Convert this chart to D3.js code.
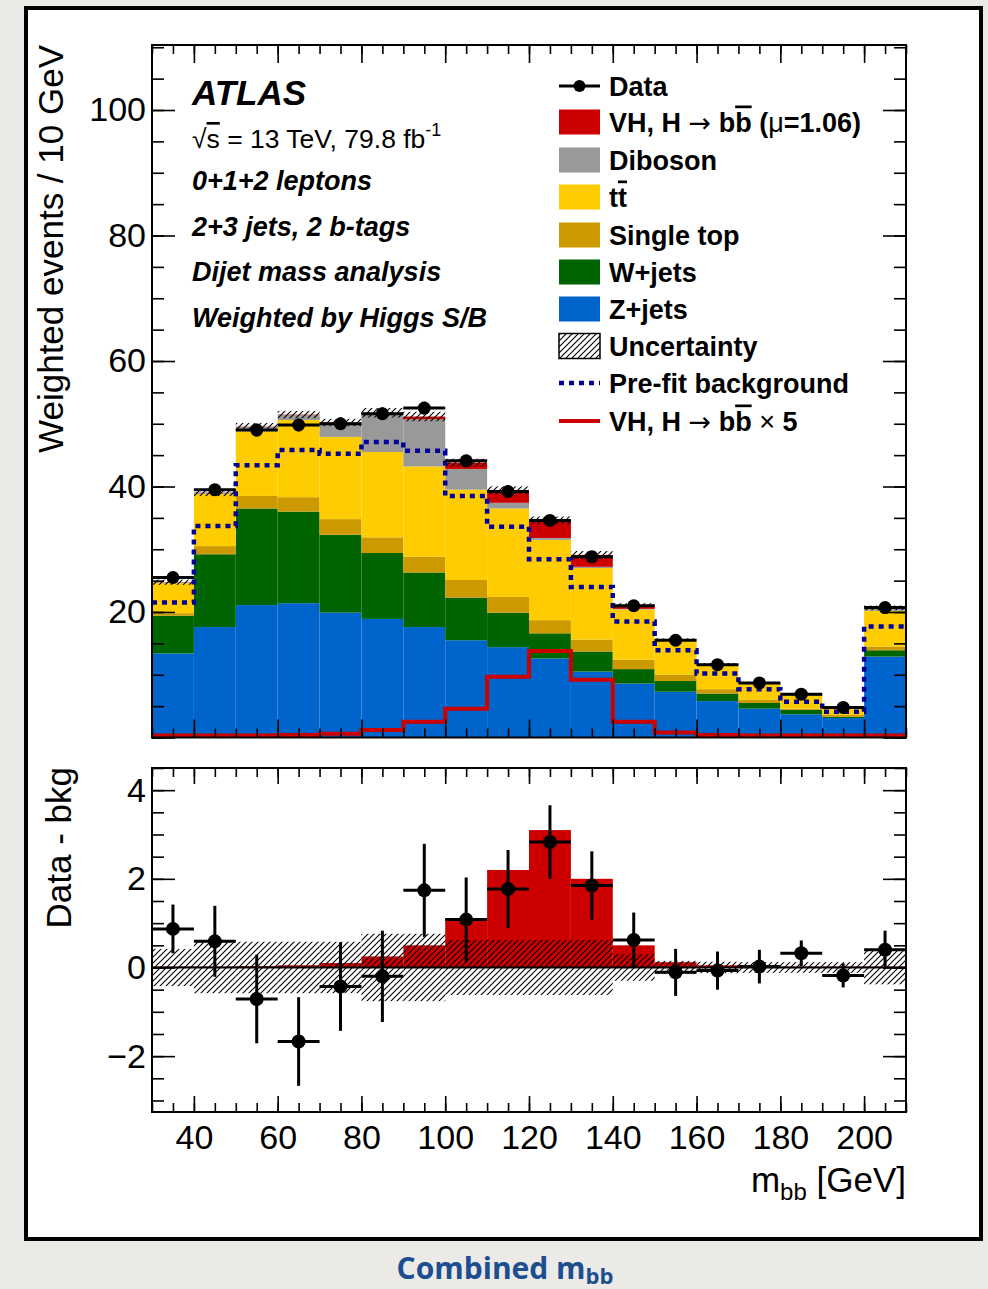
<!DOCTYPE html>
<html>
<head>
<meta charset="utf-8">
<script src="https://cdn.jsdelivr.net/npm/d3@7"></script>
<style>
  body { margin: 0; background: #eceae7; }
  svg { display: block; }
  text { font-family: "Liberation Sans", Arial, Helvetica, sans-serif; }
</style>
</head>
<body>
<svg id="chart" width="988" height="1289"></svg>
<script>
// ---- data (10 GeV bins, last one is 200-210) ----
const binLo = [30, 40, 50, 60, 70, 80, 90, 100, 110, 120, 130, 140, 150, 160, 170, 180, 190, 200];
const binHi = [40, 50, 60, 70, 80, 90, 100, 110, 120, 130, 140, 150, 160, 170, 180, 190, 200, 210];

// stacked contributions, weighted events / 10 GeV
const zjets   = [13.4, 17.6, 21.1, 21.4, 19.9, 18.9, 17.6, 15.5, 14.4, 12.6, 10.5, 8.6, 7.3, 5.8, 4.6, 3.7, 3.1, 12.9];
const wjets   = [6.0, 11.6, 15.4, 14.6, 12.4, 10.5, 8.7, 6.8, 5.5, 4.0, 3.2, 2.3, 1.7, 1.2, 0.9, 0.7, 0.2, 1.0];
const stop    = [0.4, 1.3, 2.0, 2.3, 2.5, 2.5, 2.5, 2.8, 2.5, 2.1, 1.9, 1.5, 1.0, 0.7, 0.5, 0.2, 0.3, 0.6];
const ttbar   = [4.8, 8.3, 10.3, 12.3, 13.1, 13.6, 14.4, 14.4, 14.1, 12.8, 11.4, 8.0, 5.4, 3.9, 2.6, 2.1, 1.2, 5.7];
const diboson = [0.1, 0.2, 0.7, 0.8, 2.2, 6.0, 7.5, 3.3, 0.9, 0.3, 0.2, 0.1, 0.1, 0.05, 0.05, 0.05, 0.05, 0.4];
const signal  = [0.05, 0.05, 0.05, 0.06, 0.1, 0.25, 0.45, 1.0, 2.0, 2.8, 1.9, 0.6, 0.15, 0.08, 0.05, 0.05, 0.05, 0.05];

const prefitBkg = [21.5, 33.7, 43.4, 45.8, 45.2, 47.1, 45.7, 38.5, 33.6, 28.4, 24.0, 18.5, 13.9, 10.2, 7.7, 5.7, 4.1, 17.7];
const signalX5  = [0.3, 0.3, 0.3, 0.4, 0.6, 1.2, 2.5, 4.6, 9.7, 13.8, 9.2, 2.5, 0.8, 0.4, 0.3, 0.3, 0.3, 0.3];

const dataVals = [25.5, 39.5, 49.0, 49.8, 50.0, 51.6, 52.5, 44.1, 39.2, 34.6, 28.8, 21.0, 15.5, 11.6, 8.7, 6.9, 4.8, 20.7];
const dataErr  = [0.8, 0.9, 1.0, 1.0, 1.0, 1.0, 1.0, 0.9, 0.9, 0.8, 0.8, 0.7, 0.6, 0.5, 0.4, 0.4, 0.3, 0.6];

// lower panel: data - bkg
const diffVals = [0.87, 0.59, -0.71, -1.67, -0.43, -0.20, 1.74, 1.08, 1.77, 2.83, 1.85, 0.62, -0.11, -0.07, 0.02, 0.32, -0.18, 0.40];
const diffErr  = [0.55, 0.80, 1.00, 1.00, 1.00, 1.03, 1.05, 0.95, 0.88, 0.83, 0.77, 0.62, 0.53, 0.43, 0.38, 0.29, 0.27, 0.43];
const sigLower = [0.02, 0.02, 0.03, 0.05, 0.1, 0.25, 0.5, 1.1, 2.2, 3.1, 2.0, 0.5, 0.12, 0.05, 0.03, 0.02, 0.02, 0.02];
const bkgUnc   = [0.42, 0.58, 0.58, 0.58, 0.58, 0.76, 0.76, 0.62, 0.62, 0.62, 0.62, 0.30, 0.15, 0.13, 0.12, 0.12, 0.12, 0.38];

// ticks
const xTickLabels = [40, 60, 80, 100, 120, 140, 160, 180, 200];
const yTopLabels = [20, 40, 60, 80, 100];
const yLowLabels = [-2, 0, 2, 4];

const stackKeys = ["zjets", "wjets", "stop", "ttbar", "diboson", "signal"];
const colors = {
  zjets: "#0064cd", wjets: "#006400", stop: "#cc9900",
  ttbar: "#ffcc00", diboson: "#999999", signal: "#cc0000"
};

// ---- layout ----
const svg = d3.select("#chart");
const left = 152, right = 906;
const topP = { top: 45, bottom: 737.5 };
const lowP = { top: 768, bottom: 1112 };
const font = '"Liberation Sans", Arial, Helvetica, sans-serif';

// page frame
svg.append("rect").attr("x", 26).attr("y", 8).attr("width", 955).attr("height", 1231)
  .attr("fill", "white").attr("stroke", "black").attr("stroke-width", 4);

const defs = svg.append("defs");
const pat = defs.append("pattern").attr("id", "hatch").attr("patternUnits", "userSpaceOnUse")
  .attr("width", 6).attr("height", 6);
pat.append("path").attr("d", "M-1,1 l2,-2 M0,6 l6,-6 M5,7 l2,-2")
  .attr("stroke", "black").attr("stroke-width", 1.1);

defs.append("clipPath").attr("id", "clipTop").append("rect")
  .attr("x", left).attr("y", topP.top).attr("width", right - left).attr("height", topP.bottom - topP.top);
defs.append("clipPath").attr("id", "clipLow").append("rect")
  .attr("x", left).attr("y", lowP.top).attr("width", right - left).attr("height", lowP.bottom - lowP.top);

// scales
const x = d3.scaleLinear().domain([30, 210]).range([left, right]);
const yTop = d3.scaleLinear().domain([0, 110.36]).range([topP.bottom, topP.top]);
const yLow = d3.scaleLinear().domain([-3.26, 4.5]).range([lowP.bottom, lowP.top]);

const rows = binLo.map((lo, i) => ({
  lo, hi: binHi[i],
  zjets: zjets[i], wjets: wjets[i], stop: stop[i], ttbar: ttbar[i],
  diboson: diboson[i], signal: signal[i]
}));
const series = d3.stack().keys(stackKeys)(rows);

// ===== top panel =====
const gTop = svg.append("g").attr("clip-path", "url(#clipTop)");

gTop.selectAll("g.layer").data(series).join("g").attr("class", "layer")
  .attr("fill", d => colors[d.key])
  .selectAll("rect").data(d => d).join("rect")
  .attr("x", d => x(d.data.lo))
  .attr("width", d => x(d.data.hi) - x(d.data.lo))
  .attr("y", d => yTop(d[1]))
  .attr("height", d => Math.max(0, yTop(d[0]) - yTop(d[1])));

// uncertainty band on total
const totals = series[series.length - 1].map(d => d[1]);
gTop.selectAll("rect.unc").data(rows).join("rect").attr("class", "unc")
  .attr("x", d => x(d.lo)).attr("width", d => x(d.hi) - x(d.lo))
  .attr("y", (d, i) => yTop(totals[i] + bkgUnc[i]))
  .attr("height", (d, i) => yTop(totals[i] - bkgUnc[i]) - yTop(totals[i] + bkgUnc[i]))
  .attr("fill", "url(#hatch)");

// step lines
function stepPath(vals, y) {
  const pts = [];
  vals.forEach((v, i) => { pts.push([binLo[i], v]); pts.push([binHi[i], v]); });
  return d3.line().x(d => x(d[0])).y(d => y(d[1]))(pts);
}
gTop.append("path").attr("d", stepPath(prefitBkg, yTop))
  .attr("fill", "none").attr("stroke", "#000099").attr("stroke-width", 4.5)
  .attr("stroke-dasharray", "5,5");
gTop.append("path").attr("d", stepPath(signalX5, yTop))
  .attr("fill", "none").attr("stroke", "#cc0000").attr("stroke-width", 4);

// data points
function drawPoints(g, vals, errs, y, r) {
  const pts = g.append("g");
  vals.forEach((v, i) => {
    const cx = x((binLo[i] + binHi[i]) / 2);
    pts.append("line").attr("x1", x(binLo[i])).attr("x2", x(binHi[i]))
      .attr("y1", y(v)).attr("y2", y(v)).attr("stroke", "black").attr("stroke-width", 3);
    pts.append("line").attr("x1", cx).attr("x2", cx)
      .attr("y1", y(v - errs[i])).attr("y2", y(v + errs[i])).attr("stroke", "black").attr("stroke-width", 3);
    pts.append("circle").attr("cx", cx).attr("cy", y(v)).attr("r", r).attr("fill", "black");
  });
}
drawPoints(gTop, dataVals, dataErr, yTop, 6.5);

// ===== lower panel =====
const gLow = svg.append("g").attr("clip-path", "url(#clipLow)");
gLow.selectAll("rect.sig").data(rows).join("rect").attr("class", "sig")
  .attr("x", d => x(d.lo)).attr("width", d => x(d.hi) - x(d.lo))
  .attr("y", (d, i) => yLow(sigLower[i]))
  .attr("height", (d, i) => yLow(0) - yLow(sigLower[i]))
  .attr("fill", colors.signal);
gLow.selectAll("rect.unc").data(rows).join("rect").attr("class", "unc")
  .attr("x", d => x(d.lo)).attr("width", d => x(d.hi) - x(d.lo))
  .attr("y", (d, i) => yLow(bkgUnc[i]))
  .attr("height", (d, i) => yLow(-bkgUnc[i]) - yLow(bkgUnc[i]))
  .attr("fill", "url(#hatch)");
gLow.append("line").attr("x1", left).attr("x2", right)
  .attr("y1", yLow(0)).attr("y2", yLow(0)).attr("stroke", "black").attr("stroke-width", 2);
drawPoints(gLow, diffVals, diffErr, yLow, 7);

// ===== axes / frames =====
function frame(y, p, xMaj, xMin, yMaj, yMin, yMinorStep, yMaxTick) {
  const ax = svg.append("g");
  const yMinor = d3.range(Math.ceil(y.domain()[0] / yMinorStep) * yMinorStep, y.domain()[1] + 1e-6, yMinorStep);
  const yMajor = yMinor.filter(v => Math.abs(v / yMaxTick - Math.round(v / yMaxTick)) < 1e-6);
  const xMinor = d3.range(30, 211, 5);
  const xMajor = xMinor.filter(v => v % 20 === 0);
  const add = (axis, tr) => ax.append("g").attr("transform", tr).call(axis)
    .call(g => g.select(".domain").remove())
    .call(g => g.selectAll("line").attr("stroke-width", 1.6));
  add(d3.axisTop(x).tickValues(xMinor).tickSize(xMin).tickFormat(""), `translate(0,${p.bottom})`);
  add(d3.axisTop(x).tickValues(xMajor).tickSize(xMaj).tickFormat(""), `translate(0,${p.bottom})`);
  add(d3.axisBottom(x).tickValues(xMinor).tickSize(xMin).tickFormat(""), `translate(0,${p.top})`);
  add(d3.axisBottom(x).tickValues(xMajor).tickSize(xMaj).tickFormat(""), `translate(0,${p.top})`);
  add(d3.axisRight(y).tickValues(yMinor).tickSize(yMin).tickFormat(""), `translate(${left},0)`);
  add(d3.axisRight(y).tickValues(yMajor).tickSize(yMaj).tickFormat(""), `translate(${left},0)`);
  add(d3.axisLeft(y).tickValues(yMinor).tickSize(yMin).tickFormat(""), `translate(${right},0)`);
  add(d3.axisLeft(y).tickValues(yMajor).tickSize(yMaj).tickFormat(""), `translate(${right},0)`);
  svg.append("rect").attr("x", left).attr("y", p.top).attr("width", right - left)
    .attr("height", p.bottom - p.top).attr("fill", "none").attr("stroke", "black").attr("stroke-width", 2);
}
frame(yTop, topP, 18, 9, 23, 12, 5, 20);
frame(yLow, lowP, 16, 9, 23, 12, 0.5, 2);

function labels(axis, tr) {
  svg.append("g").attr("transform", tr).call(axis)
    .call(g => g.select(".domain").remove())
    .attr("font-size", 34).attr("font-family", font);
}
labels(d3.axisLeft(yTop).tickValues(yTopLabels).tickSize(0).tickPadding(6), `translate(${left},0)`);
labels(d3.axisLeft(yLow).tickValues(yLowLabels).tickSize(0).tickPadding(6), `translate(${left},0)`);
labels(d3.axisBottom(x).tickValues(xTickLabels).tickSize(0).tickPadding(13), `translate(0,${lowP.bottom})`);

// axis titles
svg.append("text").attr("transform", `translate(63,${topP.top}) rotate(-90)`)
  .attr("text-anchor", "end").attr("font-size", 35).text("Weighted events / 10 GeV");
svg.append("text").attr("transform", `translate(71,${lowP.top - 1}) rotate(-90)`)
  .attr("text-anchor", "end").attr("font-size", 35).text("Data - bkg");
const xt = svg.append("text").attr("x", right).attr("y", 1192).attr("text-anchor", "end").attr("font-size", 35);
xt.append("tspan").text("m");
xt.append("tspan").attr("font-size", 24).attr("dy", 8).text("bb");
xt.append("tspan").attr("dy", -8).text(" [GeV]");

// ATLAS label block
svg.append("text").attr("x", 192).attr("y", 105).attr("font-size", 35)
  .attr("font-weight", "bold").attr("font-style", "italic").text("ATLAS");
const lumi = svg.append("text").attr("x", 192).attr("y", 148).attr("font-size", 26.5);
lumi.append("tspan").text("√");
lumi.append("tspan").style("text-decoration", "overline").text("s");
lumi.append("tspan").text(" = 13 TeV, 79.8 fb");
lumi.append("tspan").attr("font-size", 18).attr("dy", -12).text("-1");
const infoLines = ["0+1+2 leptons", "2+3 jets, 2 b-tags", "Dijet mass analysis", "Weighted by Higgs S/B"];
const infoY = [190, 236, 281, 327];
infoLines.forEach((t, i) => svg.append("text").attr("x", 192).attr("y", infoY[i])
  .attr("font-size", 27).attr("font-weight", "bold").attr("font-style", "italic").text(t));

// ===== legend =====
const legY = [86, 122, 160, 197, 235, 272, 309, 346, 383, 421];
const lg = svg.append("g");
const boxX = 559, boxW = 41, txtX = 609;
function legText(i) {
  return lg.append("text").attr("x", txtX).attr("y", legY[i] + 9.5)
    .attr("font-size", 27).attr("font-weight", "bold");
}
function arrow(t) {
  t.append("tspan").attr("font-weight", "normal").attr("font-size", 27)
    .style("font-family", '"DejaVu Sans", sans-serif').text("→");
}
// data
lg.append("line").attr("x1", boxX).attr("x2", boxX + boxW).attr("y1", legY[0]).attr("y2", legY[0])
  .attr("stroke", "black").attr("stroke-width", 3);
lg.append("circle").attr("cx", boxX + boxW / 2).attr("cy", legY[0]).attr("r", 6);
legText(0).text("Data");
// filled boxes
const boxKeys = ["signal", "diboson", "ttbar", "stop", "wjets", "zjets"];
boxKeys.forEach((k, j) => lg.append("rect").attr("x", boxX).attr("y", legY[j + 1] - 12.5)
  .attr("width", boxW).attr("height", 25).attr("fill", colors[k]));
let t = legText(1);
t.append("tspan").text("VH, H  ");
arrow(t);
t.append("tspan").text(" b");
t.append("tspan").style("text-decoration", "overline").text("b");
t.append("tspan").text(" (");
t.append("tspan").attr("font-weight", "normal").text("μ");
t.append("tspan").text("=1.06)");
legText(2).text("Diboson");
t = legText(3);
t.append("tspan").text("t");
t.append("tspan").style("text-decoration", "overline").text("t");
legText(4).text("Single top");
legText(5).text("W+jets");
legText(6).text("Z+jets");
lg.append("rect").attr("x", boxX).attr("y", legY[7] - 12.5).attr("width", boxW).attr("height", 25)
  .attr("fill", "url(#hatch)").attr("stroke", "black").attr("stroke-width", 1.5);
legText(7).text("Uncertainty");
lg.append("line").attr("x1", boxX).attr("x2", boxX + boxW).attr("y1", legY[8]).attr("y2", legY[8])
  .attr("stroke", "#000099").attr("stroke-width", 4.5).attr("stroke-dasharray", "5,5");
legText(8).text("Pre-fit background");
lg.append("line").attr("x1", boxX).attr("x2", boxX + boxW).attr("y1", legY[9]).attr("y2", legY[9])
  .attr("stroke", "#cc0000").attr("stroke-width", 4);
t = legText(9);
t.append("tspan").text("VH, H  ");
arrow(t);
t.append("tspan").text(" b");
t.append("tspan").style("text-decoration", "overline").text("b");
t.append("tspan").attr("font-weight", "normal").text("  × ");
t.append("tspan").text("5");

// caption under the frame
const cap = svg.append("text").attr("x", 505).attr("y", 1279).attr("text-anchor", "middle")
  .attr("fill", "#1d4e8f").attr("font-weight", "bold").attr("font-size", 30)
  .style("font-family", '"Open Sans", "Noto Sans", sans-serif');
cap.append("tspan").text("Combined m");
cap.append("tspan").attr("font-size", 22).attr("dy", 5).text("bb");
</script>
</body>
</html>
